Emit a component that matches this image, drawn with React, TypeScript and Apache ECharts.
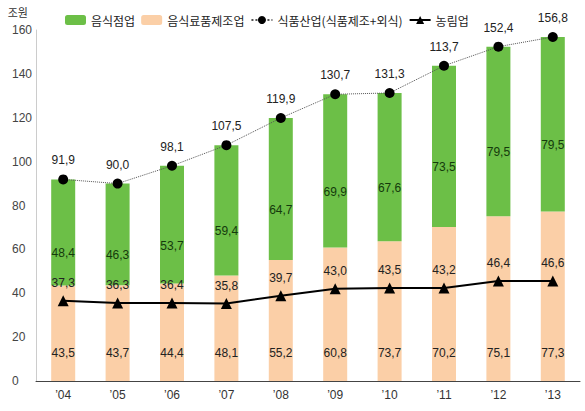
import React, { useEffect, useRef } from "react";
import * as echarts from "echarts";

const years = ["’04", "’05", "’06", "’07", "’08", "’09", "’10", "’11", "’12", "’13"];
const manufacturing = [43.5, 43.7, 44.4, 48.1, 55.2, 60.8, 63.7, 70.2, 75.1, 77.3];
const manufacturingLabels = ["43,5", "43,7", "44,4", "48,1", "55,2", "60,8", "73,7", "70,2", "75,1", "77,3"];
const restaurants = [48.4, 46.3, 53.7, 59.4, 64.7, 69.9, 67.6, 73.5, 77.3, 79.5];
const restaurantLabels = ["48,4", "46,3", "53,7", "59,4", "64,7", "69,9", "67,6", "73,5", "79,5", "79,5"];
const foodIndustry = [91.9, 90.0, 98.1, 107.5, 119.9, 130.7, 131.3, 143.7, 152.4, 156.8];
const foodIndustryLabels = ["91,9", "90,0", "98,1", "107,5", "119,9", "130,7", "131,3", "113,7", "152,4", "156,8"];
const agriculture = [36.6, 35.6, 35.6, 35.3, 38.9, 42.0, 42.4, 42.4, 45.6, 45.6];
const agricultureLabels = ["37,3", "36,3", "36,4", "35,8", "39,7", "43,0", "43,5", "43,2", "46,4", "46,6"];
const yTicks = [0, 20, 40, 60, 80, 100, 120, 140, 160];

const FONT = "Liberation Sans, Noto Sans CJK KR, sans-serif";

export default function App() {
  const ref = useRef<HTMLDivElement>(null);
  useEffect(() => {
    if (!ref.current) return;
    const chart = echarts.init(ref.current, undefined, { renderer: "svg" });
    chart.setOption({
      animation: false,
      textStyle: { fontFamily: FONT },
      legend: {
        left: 60,
        top: 9,
        itemWidth: 21,
        itemHeight: 10,
        itemGap: 6,
        textStyle: { fontSize: 12, color: "#222", fontFamily: "Noto Sans CJK KR, sans-serif" },
        data: ["음식점업", "음식료품제조업", "식품산업(식품제조+외식)", "농림업"],
      },
      grid: { left: 36, right: 5, top: 30, bottom: 30 },
      xAxis: {
        type: "category",
        data: years,
        axisLine: { lineStyle: { color: "#444", width: 1 } },
        axisTick: { show: false },
        axisLabel: { color: "#333", fontSize: 12, margin: 8 },
      },
      yAxis: {
        type: "value",
        min: 0,
        max: 160,
        interval: 20,
        name: "조원",
        nameLocation: "end",
        nameGap: 13,
        nameTextStyle: { color: "#333", fontSize: 11, align: "right", padding: [0, 8, 0, 0], fontFamily: "Noto Sans CJK KR, sans-serif" },
        axisLine: { show: true, lineStyle: { color: "#ccc" } },
        axisTick: { show: false },
        splitLine: { show: false },
        axisLabel: {
          color: "#444",
          fontSize: 12,
          align: "left",
          margin: 24,
          formatter: (v: number) => (yTicks.includes(v) ? String(v) : ""),
        },
      },
      series: [
        {
          name: "음식료품제조업",
          type: "bar",
          stack: "total",
          barWidth: 24,
          data: manufacturing,
          itemStyle: { color: "#fbcfa7" },
          label: {
            show: true,
            position: "insideBottom",
            distance: 22,
            color: "#222",
            fontSize: 12,
            formatter: (p: any) => manufacturingLabels[p.dataIndex],
          },
        },
        {
          name: "음식점업",
          type: "bar",
          stack: "total",
          barWidth: 24,
          data: restaurants,
          itemStyle: { color: "#6cbf47" },
          label: {
            show: true,
            position: "inside",
            offset: [0, 21],
            color: "#143a0c",
            fontSize: 12,
            formatter: (p: any) => restaurantLabels[p.dataIndex],
          },
        },
        {
          name: "식품산업(식품제조+외식)",
          type: "line",
          data: foodIndustry,
          symbol: "circle",
          symbolSize: 10,
          itemStyle: { color: "#000" },
          lineStyle: { color: "#555", width: 1, type: "dotted" },
          z: 5,
          label: {
            show: true,
            position: "top",
            distance: 8,
            color: "#222",
            fontSize: 12,
            formatter: (p: any) => foodIndustryLabels[p.dataIndex],
          },
        },
        {
          name: "농림업",
          type: "line",
          data: agriculture,
          symbol: "triangle",
          symbolSize: 11,
          itemStyle: { color: "#000" },
          lineStyle: { color: "#000", width: 2 },
          z: 5,
          label: {
            show: true,
            position: "top",
            distance: 6,
            color: "#222",
            fontSize: 12,
            formatter: (p: any) => agricultureLabels[p.dataIndex],
          },
        },
      ],
    });
    return () => chart.dispose();
  }, []);
  return <div ref={ref} style={{ width: 585, height: 411, position: "absolute", left: 0, top: 0 }} />;
}
